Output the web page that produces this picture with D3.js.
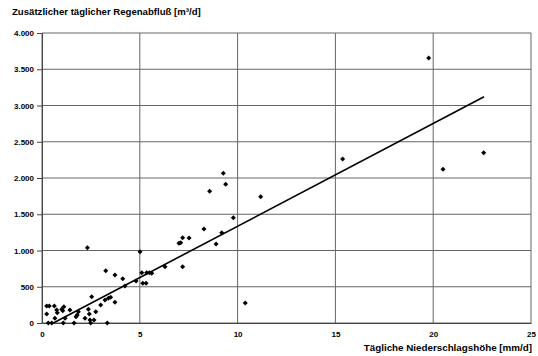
<!DOCTYPE html>
<html>
<head>
<meta charset="utf-8">
<script src="https://cdn.jsdelivr.net/npm/d3@7"></script>
<style>
  body { margin: 0; background: #fff; }
  svg { display: block; font-family: "Liberation Sans", Arial, sans-serif; font-weight: bold; }
</style>
</head>
<body>
<svg id="chart" width="538" height="356"></svg>
<script>
// Tägliche Niederschlagshöhe [mm/d]
let rainfall = [
  0.24, 0.37, 0.24, 0.32, 0.50, 0.63, 0.75, 0.78, 0.66, 1.01,
  1.12, 1.06, 1.18, 1.09, 1.43, 1.64, 1.74, 1.80, 1.86, 2.20,
  2.37, 2.42, 2.45, 2.49, 2.66, 2.75, 2.54, 2.32, 3.00, 3.22,
  3.39, 3.51, 3.73, 3.26, 3.73, 4.13, 4.24, 4.81, 5.01, 5.10,
  5.15, 5.32, 5.35, 5.49, 5.61, 6.29, 7.00, 3.34, 7.19, 7.09,
  7.19, 7.52, 8.28, 8.90, 9.19, 9.78, 8.57, 9.27, 9.39, 11.18,
  10.39, 15.37, 19.77, 20.50, 22.58
]
// Zusätzlicher täglicher Regenabfluß [m³/d]
let runoff = [
  234, 234, 124, 0, 0, 234, 179, 142, 65, 189,
  225, 170, 65, 0, 179, 0, 87, 110, 156, 65,
  189, 124, 41, 0, 41, 156, 363, 1038, 248, 317,
  341, 354, 285, 721, 662, 611, 510, 579, 983, 694,
  547, 547, 694, 694, 685, 776, 1099, 0, 776, 1107,
  1176, 1172, 1296, 1089, 1245, 1452, 1816, 2064, 1913, 1742,
  276, 2262, 3654, 2120, 2348
]
// Regressionsgerade (Endpunkte)
let trendX = [0.58, 22.6]
let trendY = [0, 3121]

let xTicks = [0, 5, 10, 15, 20, 25]
let yTicks = [0, 500, 1000, 1500, 2000, 2500, 3000, 3500, 4000]

let de = d3.formatLocale({decimal: ',', thousands: '.', grouping: [3], currency: ['', ' €']})
let fmt = de.format(',.0f')

let svg = d3.select('#chart')

let xScale = d3.scaleLinear().domain([0, 25]).range([42, 531])
let yScale = d3.scaleLinear().domain([0, 4000]).range([323, 33])

// gridlines
svg.append('g')
  .selectAll('line')
  .data(yTicks)
  .enter()
  .append('line')
  .attr('x1', xScale(0))
  .attr('x2', xScale(25))
  .attr('y1', (d) => yScale(d))
  .attr('y2', (d) => yScale(d))
  .attr('stroke', '#666')
  .attr('stroke-width', 1)

svg.append('g')
  .selectAll('line')
  .data(xTicks)
  .enter()
  .append('line')
  .attr('x1', (d) => xScale(d))
  .attr('x2', (d) => xScale(d))
  .attr('y1', yScale(0))
  .attr('y2', yScale(4000))
  .attr('stroke', '#666')
  .attr('stroke-width', 1)

// axes
let yAxis = d3.axisLeft(yScale).tickValues(yTicks).tickFormat(fmt).tickSize(5).tickPadding(3)
let yG = svg.append('g')
  .attr('transform', 'translate(' + xScale(0) + ',0)')
  .call(yAxis)
yG.select('.domain').attr('stroke', '#444')
yG.selectAll('line').attr('stroke', '#444')
yG.selectAll('text').attr('font-size', 8).attr('font-weight', 'bold').attr('font-family', '"Liberation Sans", Arial, sans-serif').attr('fill', '#000')

let xAxis = d3.axisBottom(xScale).tickValues(xTicks).tickFormat(d3.format('d')).tickSize(0).tickPadding(8)
let xG = svg.append('g')
  .attr('transform', 'translate(0,' + yScale(0) + ')')
  .call(xAxis)
xG.select('.domain').attr('stroke', '#444')
xG.selectAll('text').attr('font-size', 8).attr('font-weight', 'bold').attr('font-family', '"Liberation Sans", Arial, sans-serif').attr('fill', '#000')

// trend line
svg.append('line')
  .attr('x1', xScale(trendX[0]))
  .attr('y1', yScale(trendY[0]))
  .attr('x2', xScale(trendX[1]))
  .attr('y2', yScale(trendY[1]))
  .attr('stroke', '#000')
  .attr('stroke-width', 1.6)

// points
let diamond = d3.symbol().type(d3.symbolDiamond2).size(16)
svg.append('g')
  .selectAll('path')
  .data(rainfall)
  .enter()
  .append('path')
  .attr('d', diamond)
  .attr('transform', (d, i) => 'translate(' + xScale(d) + ',' + yScale(runoff[i]) + ')')
  .attr('fill', '#000')

// titles
svg.append('text')
  .attr('x', 12)
  .attr('y', 15)
  .attr('font-size', 9.6)
  .attr('fill', '#000')
  .text('Zusätzlicher täglicher Regenabfluß [m³/d]')

svg.append('text')
  .attr('x', 532)
  .attr('y', 351)
  .attr('text-anchor', 'end')
  .attr('font-size', 9.8)
  .attr('fill', '#000')
  .text('Tägliche Niederschlagshöhe [mm/d]')
</script>
</body>
</html>
